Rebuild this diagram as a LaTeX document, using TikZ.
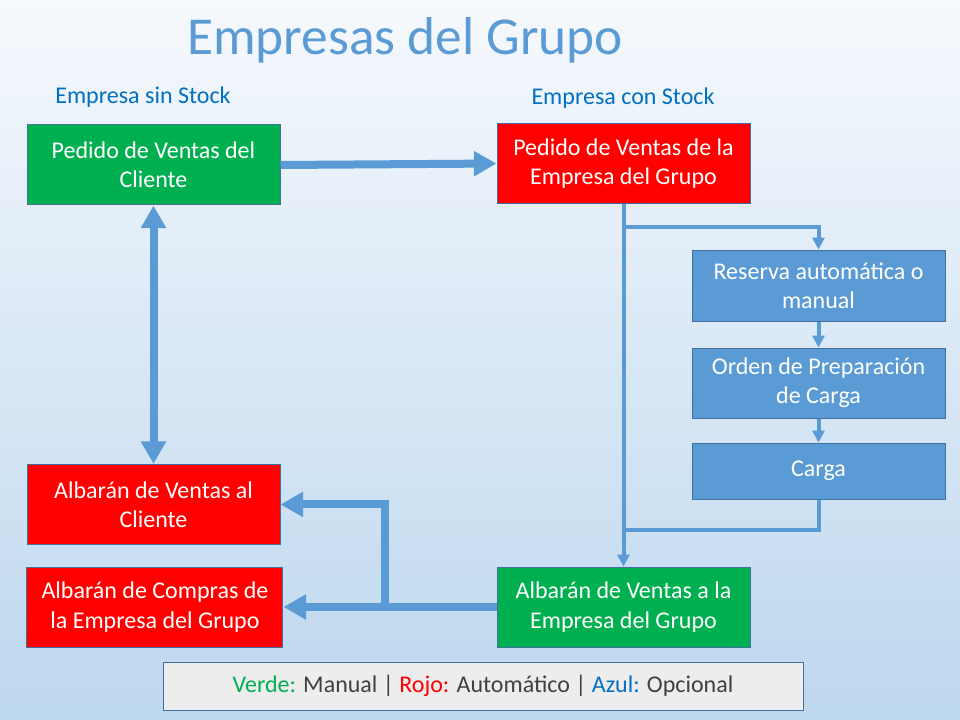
\documentclass[tikz,border=0pt]{standalone}
\usepackage{fontspec}
\setmainfont{Carlito}
\usetikzlibrary{arrows.meta}
\definecolor{verde}{RGB}{0,176,80}
\definecolor{rojo}{RGB}{255,0,0}
\definecolor{azul}{RGB}{91,155,213}
\definecolor{azultexto}{RGB}{0,112,192}
\definecolor{borde}{RGB}{65,113,156}
\definecolor{gristexto}{RGB}{64,64,64}
\definecolor{fondoarriba}{RGB}{246,249,253}
\definecolor{fondoabajo}{RGB}{189,215,238}
\tikzstyle{caja}       = [rectangle, minimum width=189.75pt, minimum height=60pt, text centered, align=center, draw=borde, line width=0.75pt, text=white, font=\fontsize{18}{22}\selectfont]
\tikzstyle{manual}     = [caja, fill=verde]
\tikzstyle{automatico} = [caja, fill=rojo]
\tikzstyle{opcional}   = [caja, fill=azul]
\tikzstyle{flecha}     = [line width=6pt, draw=azul, -{Triangle[length=17pt, width=18pt]}]
\tikzstyle{flechafina} = [line width=3pt, draw=azul, -{Triangle[length=9pt, width=9pt]}]
\tikzstyle{lineafina}  = [line width=3pt, draw=azul]

\begin{document}
\begin{tikzpicture}[x=0.75pt, y=-0.75pt]
            % fondo degradado
            \useasboundingbox (0,0) rectangle (960,720);
            \shade[top color=fondoarriba, bottom color=fondoabajo] (0,0) rectangle (960,720);

            % títulos
            \node (titulo) at (405,40) [text=azul, font=\fontsize{40}{48}\selectfont] {Empresas del Grupo};
            \node (sinstock) at (143,97) [text=azultexto, font=\fontsize{18}{22}\selectfont] {Empresa sin Stock};
            \node (constock) at (623,98) [text=azultexto, font=\fontsize{18}{22}\selectfont] {Empresa con Stock};

            % 1. pedido del cliente (manual)
            \node (pedcli) at (153.5,165) [manual] {Pedido de Ventas del\\Cliente};
            % 2. pedido de la empresa del grupo (automático)
            \node (pedemp) [automatico, right of=pedcli, node distance=352.5pt, yshift=1.1pt] {Pedido de Ventas de la\\Empresa del Grupo};
            % 3. pasos opcionales
            \node (reserva) [opcional, below of=pedemp, node distance=91.5pt, xshift=146.25pt, minimum height=53.25pt] {Reserva automática o\\manual};
            \node (orden) [opcional, below of=reserva, node distance=73.1pt, minimum height=52.5pt] {Orden de Preparación\\de Carga};
            \node (carga) [opcional, below of=orden, node distance=66pt, minimum height=42pt] {Carga};
            % 4. albaranes
            \node (albcli) [automatico, below of=pedcli, node distance=254.6pt] {Albarán de Ventas al\\Cliente};
            \node (albcomp) [automatico, below of=albcli, node distance=76.9pt, xshift=1.1pt, minimum width=192pt] {Albarán de Compras de\\la Empresa del Grupo};
            \node (albemp) [manual, right of=albcomp, node distance=351.4pt] {Albarán de Ventas a la\\Empresa del Grupo};

            % leyenda
            \node (leyenda) at (483,686) [rectangle, minimum width=480pt, minimum height=36pt, draw=borde, line width=0.75pt, fill={rgb,255:red,237;green,237;blue,237}, text=gristexto, font=\fontsize{18}{22}\selectfont]
                {\textcolor{verde}{Verde:} Manual | \textcolor{rojo}{Rojo:} Automático | \textcolor{azultexto}{Azul:} Opcional};

            % puntos de paso
            \coordinate (bifur) at (623.5,227);
            \coordinate (retorno) at (623.5,530);
            \coordinate (cruce) at (385,607);

            % flechas gruesas
            \draw [flecha] (pedcli.east) -- (pedemp.west);
            \draw [flecha, {Triangle[length=17pt, width=18pt]}-{Triangle[length=17pt, width=18pt]}] (pedcli.south) -- (albcli.north);
            \draw [flecha] (albemp.west) -- (albcomp.east);
            \draw [flecha] (cruce) |- (albcli.east);

            % flechas finas
            \draw [flechafina] (pedemp.south) -- (albemp.north);
            \draw [flechafina] (bifur) -| (reserva.north);
            \draw [flechafina] (reserva) -- (orden);
            \draw [flechafina] (orden) -- (carga);
            \draw [lineafina] (carga.south) |- (retorno);

        \end{tikzpicture}
\end{document}
